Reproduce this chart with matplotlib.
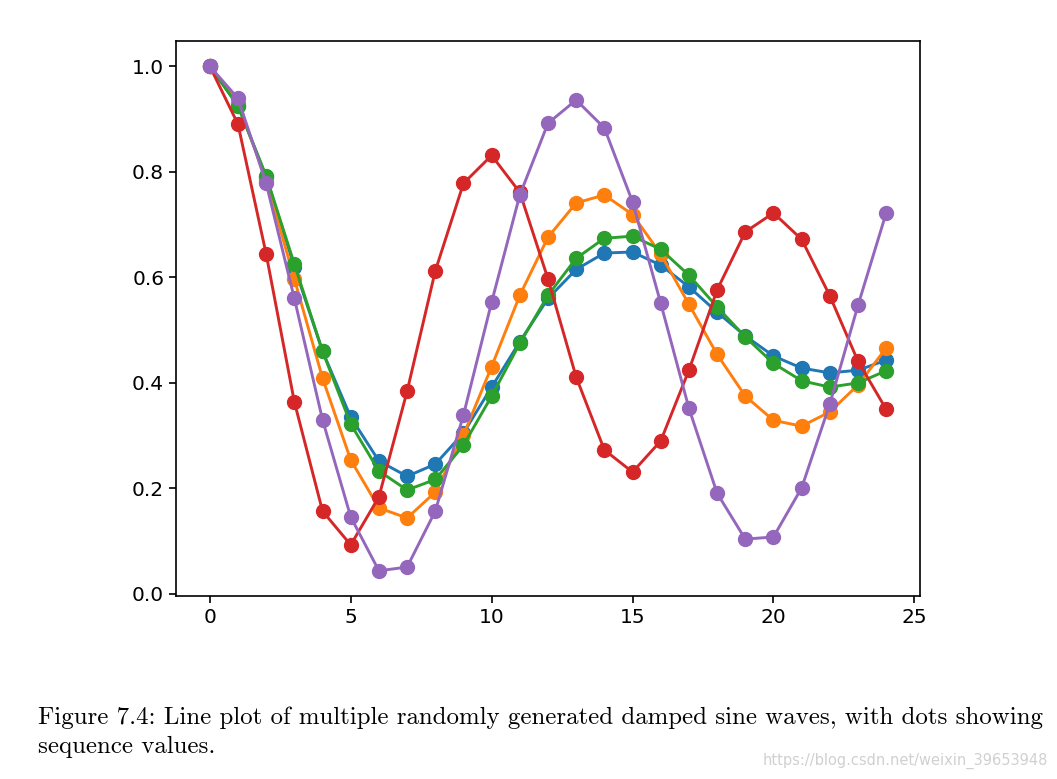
import matplotlib
matplotlib.use('Agg')
import matplotlib.pyplot as plt

steps = list(range(25))

# five damped sine waves
wave_blue = [1.0, 0.925, 0.79, 0.62, 0.46, 0.335, 0.252, 0.223, 0.246, 0.305,
             0.392, 0.478, 0.56, 0.615, 0.646, 0.648, 0.623, 0.582, 0.534, 0.489,
             0.451, 0.428, 0.419, 0.424, 0.443]
wave_orange = [1.0, 0.93, 0.785, 0.597, 0.409, 0.254, 0.163, 0.144, 0.193, 0.301,
               0.431, 0.566, 0.676, 0.741, 0.756, 0.719, 0.644, 0.549, 0.454, 0.375,
               0.329, 0.318, 0.345, 0.396, 0.466]
wave_green = [1.0, 0.925, 0.792, 0.625, 0.46, 0.322, 0.233, 0.197, 0.217, 0.282,
              0.375, 0.475, 0.566, 0.636, 0.674, 0.678, 0.653, 0.604, 0.544, 0.487,
              0.437, 0.404, 0.392, 0.400, 0.423]
wave_red = [1.0, 0.890, 0.644, 0.364, 0.157, 0.093, 0.184, 0.384, 0.612, 0.778,
            0.831, 0.761, 0.597, 0.411, 0.273, 0.231, 0.290, 0.424, 0.576, 0.686,
            0.722, 0.672, 0.565, 0.441, 0.350]
wave_purple = [1.0, 0.939, 0.778, 0.560, 0.330, 0.146, 0.044, 0.051, 0.157, 0.339,
               0.553, 0.756, 0.892, 0.936, 0.883, 0.743, 0.551, 0.352, 0.191, 0.104,
               0.108, 0.201, 0.360, 0.547, 0.722]

caption_lines = ["Figure 7.4: Line plot of multiple randomly generated damped sine waves, with dots showing",
                 "sequence values."]
watermark = "https://blog.csdn.net/weixin_39653948"

fig = plt.figure(figsize=(10.57, 7.79), dpi=100)
ax = fig.add_axes([176/1057, 1 - 596/779, (920 - 176)/1057, (596 - 41)/779])

for wave in [wave_blue, wave_orange, wave_green, wave_red, wave_purple]:
    ax.plot(steps, wave, marker='o', markersize=10, linewidth=2.1)

ax.set_xticks([0, 5, 10, 15, 20, 25])
ax.set_yticks([0.0, 0.2, 0.4, 0.6, 0.8, 1.0])
ax.tick_params(labelsize=14.5, width=1.2, length=5)
for s in ax.spines.values():
    s.set_linewidth(1.2)

# caption below the plot, Computer Modern look
for line, ypix in zip(caption_lines, [718, 747]):
    fig.text(38/1057, 1 - ypix/779, line, fontsize=17.9, family='cmr10',
             va='center', ha='left')
fig.text(1048/1057, 1 - 761/779, watermark, fontsize=10.5, color='#d0d0d0',
         ha='right', va='center')

fig.savefig('out.png', dpi=100)
